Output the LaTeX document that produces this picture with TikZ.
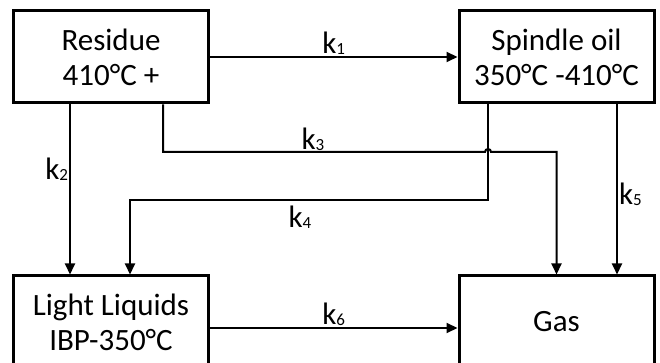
\documentclass[tikz,border=0pt]{standalone}
\usepackage{fontspec}
\setmainfont{Carlito}
\usetikzlibrary{arrows.meta,calc,positioning}
\newcommand{\kk}[1]{k\raisebox{-1pt}{\fontsize{17}{17}\selectfont #1}}

\begin{document}
\begin{tikzpicture}[x=1pt,y=1pt,
  box/.style={draw,line width=3pt,align=center,inner sep=0pt,minimum width=195pt,
              minimum height=92pt,font=\fontsize{31}{35}\selectfont},
  arr/.style={line width=2pt,-{Triangle[length=11pt,width=10pt]}},
  lbl/.style={inner sep=1pt,font=\fontsize{31}{35}\selectfont}]
  \useasboundingbox (0,0) rectangle (660,363);
  \node[box] (res) at (111,306) {Residue\\410°C +};
  \node[box] (spo) at (556.5,306) {Spindle oil\\350°C -410°C};
  \node[box] (lig) at (111,41) {Light Liquids\\IBP-350°C};
  \node[box] (gas) at (556.5,41) {Gas};
  % branch points
  \coordinate (k3a) at (485,211);
  \coordinate (k4b) at (130,163);
  \draw[arr] (res) -- node[lbl,above] (l1) {\kk{1}} (spo);
  \draw[arr] ([xshift=-41pt]res.south) -- node[lbl,left,pos=0.38] (l2) {\kk{2}} ([xshift=-41pt]lig.north);
  \draw[arr] ([xshift=52pt]res.south) |- (k3a) arc[start angle=180,end angle=0,radius=3] -| (gas.north);
  \draw[arr] ([xshift=-68.5pt]spo.south) |- (k4b) -- ([xshift=19pt]lig.north);
  \draw[arr] ([xshift=60.5pt]spo.south) -- node[lbl,right,pos=0.53] (l5) {\kk{5}} ([xshift=60.5pt]gas.north);
  \draw[arr] ([yshift=-6pt]lig.east) -- node[lbl,above] (l6) {\kk{6}} ([yshift=-6pt]gas.west);
  \node[lbl] (l3) at (313,224) {\kk{3}};
  \node[lbl] (l4) at (300,146) {\kk{4}};
\end{tikzpicture}
\end{document}
